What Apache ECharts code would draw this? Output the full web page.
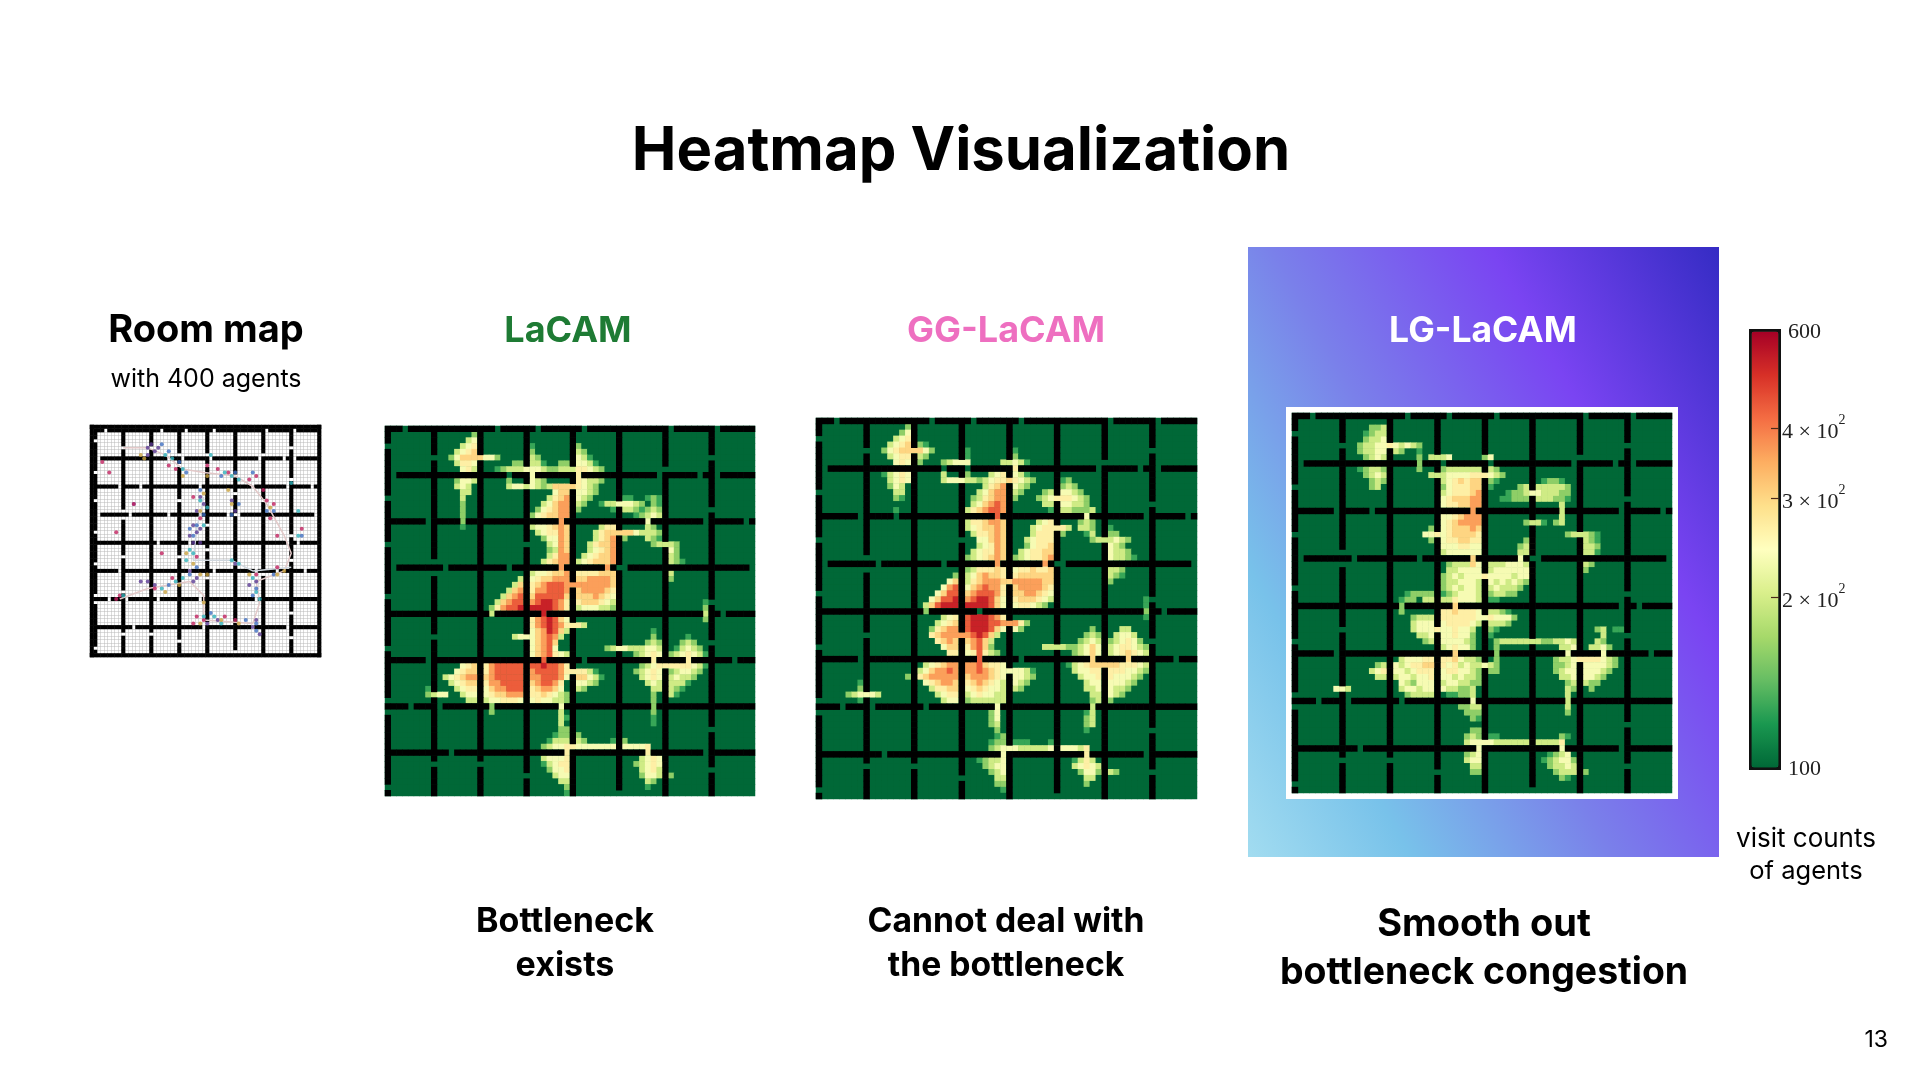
<!DOCTYPE html>
<html><head><meta charset="utf-8">
<style>html,body{margin:0;padding:0;background:#fff}#c{width:1920px;height:1080px}</style>
<script src="https://cdn.jsdelivr.net/npm/echarts@6/dist/echarts.min.js"></script>
</head><body><div id="c"></div>
<script>
// visit-count level lookup ('1'..'9' in the run strings below)
const levelValues = [100,128,160,198,235,268,305,365,440,530];
const scaleMin = 100, scaleMax = 600;
const colorbarTicks = [100,200,300,400,600];
const colorbarLabels = {100:'100',200:'2 × 10',300:'3 × 10',400:'4 × 10',600:'600'};
const rampColors = ['#006837','#1a9850','#66bd63','#a6d96a','#d9ef8b','#ffffbf','#fee08b','#fdae61','#f46d43','#d73027','#a50026'];

// wall layout: rows / columns every 8 cells, lists of openings
const wallRowGaps = [[3,19,26,34,49,57],[1,21,25,33,47,54,57],[7,13,30,45,55,62],[1,10,21,30,38,40,41,63],[18,27,55,58],[7,27,34,46,52,60],[4,9,18,30,46],[11,31,45,55]];
const wallColGaps = [[3,12,20,29,38,47,49,62],[5,23,25,36,46,58],[5,58],[7,10,20,36,60],[7,10,27,34,42,55],[13,18,24,38,63],[7,20,41],[5,14,30,37,52,59]];

// each run: [row, first column, levels]
const lacamRuns = [[1,15,"2"],[2,14,"34"],[3,13,"345"],[3,25,"1"],[3,33,"2"],[4,12,"3456"],[4,25,"2"],[4,33,"32"],[5,11,"246666"],[5,17,"442"],[5,25,"32"],[5,33,"431"],[6,12,"3554"],[6,22,"22"],[6,25,"331"],[6,30,"22"],[6,33,"4431"],[7,13,"453"],[7,19,"12333"],[7,24,"444322333"],[7,33,"55432"],[8,25,"4"],[8,33,"5"],[9,12,"2443"],[9,21,"2"],[9,25,"432"],[9,33,"54332"],[10,12,"343"],[10,21,"3443"],[10,25,"432"],[10,28,"3666"],[10,32,"6"],[10,33,"5432"],[11,13,"33"],[11,29,"466"],[11,33,"4432"],[12,13,"3"],[12,28,"3567"],[12,33,"432"],[12,41,"11"],[12,45,"121"],[13,13,"2"],[13,27,"34677"],[13,33,"32"],[13,37,"13344432"],[13,46,"21"],[14,13,"2"],[14,26,"245677"],[14,33,"2"],[14,39,"123321"],[14,45,"232"],[15,13,"2"],[15,25,"2456677"],[15,43,"12343"],[16,13,"2"],[16,30,"7"],[16,45,"4"],[17,13,"1"],[17,25,"3445676"],[17,37,"355"],[17,45,"32"],[18,26,"345576"],[18,36,"3566"],[18,40,"666"],[18,43,"43332"],[19,27,"24476"],[19,36,"3567"],[19,41,"2"],[19,45,"321"],[20,28,"3476"],[20,35,"35667"],[20,46,"23332"],[21,28,"2376"],[21,35,"34567"],[21,49,"42"],[22,28,"3577"],[22,34,"345667"],[22,49,"32"],[23,27,"35677"],[23,33,"3456667"],[23,49,"321"],[24,30,"7"],[24,38,"7"],[25,25,"3445667"],[25,33,"5555666"],[25,49,"3"],[26,23,"3"],[26,25,"4566777"],[26,33,"6677776"],[26,49,"2"],[27,22,"36"],[27,25,"5678887"],[27,32,"77777776"],[28,21,"367"],[28,25,"5778887"],[28,33,"6777765"],[29,20,"3678"],[29,25,"6888886"],[29,33,"6667654"],[30,19,"36788"],[30,25,"7899875"],[30,33,"5666543"],[30,55,"1"],[31,18,"25788999999875"],[31,33,"3444332"],[31,55,"2"],[32,18,"3"],[32,27,"9"],[32,55,"3"],[33,25,"5789864"],[33,55,"2"],[34,25,"5789875"],[34,32,"553"],[35,25,"4679863"],[35,46,"1"],[36,22,"344"],[36,25,"467873"],[36,46,"2"],[36,52,"1"],[37,25,"46786"],[37,45,"232"],[37,51,"232"],[38,25,"46784"],[38,38,"234433"],[38,44,"3443"],[38,50,"13432"],[39,25,"4678543"],[39,43,"23454"],[39,49,"2345431"],[40,27,"8"],[40,46,"5"],[40,52,"5"],[41,13,"456"],[41,17,"5788888"],[41,25,"8898875"],[41,44,"23455"],[41,49,"5555431"],[42,12,"4566"],[42,17,"5788888"],[42,25,"7888875"],[42,32,"55531"],[42,43,"23454"],[42,49,"234432"],[43,10,"3456777"],[43,17,"6788888"],[43,25,"7788874"],[43,33,"66431"],[43,44,"3454"],[43,49,"34332"],[44,11,"34566"],[44,17,"5778888"],[44,25,"678875"],[44,33,"4432"],[44,45,"343"],[44,49,"3331"],[45,7,"1"],[45,12,"3455"],[45,17,"4677888"],[45,25,"567764"],[45,33,"32"],[45,46,"33"],[45,49,"321"],[46,7,"2344"],[46,13,"344"],[46,17,"4566777"],[46,25,"5565432"],[46,46,"2"],[46,49,"31"],[47,14,"33"],[47,17,"3445554"],[47,25,"4544332"],[47,46,"2"],[48,18,"2"],[48,30,"4"],[48,46,"2"],[49,18,"2"],[49,30,"3"],[49,46,"2"],[50,30,"31"],[50,46,"1"],[51,30,"3"],[51,46,"1"],[52,30,"22"],[53,29,"122"],[53,33,"2"],[54,28,"1333"],[54,33,"32"],[54,39,"122"],[55,27,"2344554444444444"],[55,43,"445"],[56,31,"5"],[56,45,"5"],[57,27,"34445"],[57,44,"3454"],[58,27,"13455"],[58,43,"234543"],[59,28,"2445"],[59,44,"34533"],[60,29,"344"],[60,44,"244332"],[61,30,"33"],[61,45,"32"],[62,31,"2"],[62,45,"1"],[63,31,"1"]];

const ggRuns = [[1,15,"2"],[2,14,"24"],[3,13,"345"],[4,12,"3456"],[4,17,"21"],[5,11,"2456666"],[5,18,"42"],[5,25,"1"],[5,33,"1"],[6,12,"3455"],[6,17,"32"],[6,25,"1"],[6,33,"2"],[7,13,"454"],[7,17,"2"],[7,21,"23444"],[7,31,"33431"],[8,33,"5"],[9,11,"13454"],[9,21,"3"],[9,25,"2"],[9,29,"345"],[9,33,"431"],[10,12,"3454"],[10,21,"3444"],[10,25,"332345"],[10,31,"565432"],[10,41,"12"],[11,12,"243"],[11,28,"3567"],[11,33,"432"],[11,41,"232"],[12,13,"33"],[12,27,"34677"],[12,33,"32"],[12,38,"23"],[12,41,"4432"],[13,13,"21"],[13,26,"235677"],[13,33,"2"],[13,37,"234"],[13,40,"555432"],[14,26,"346787"],[14,38,"33"],[14,41,"44332"],[15,13,"1"],[15,25,"3567887"],[15,39,"1"],[15,41,"332223"],[16,30,"8"],[16,45,"4"],[17,25,"3556776"],[17,37,"345"],[17,44,"232"],[18,25,"3456676"],[18,36,"3455"],[18,40,"553"],[18,44,"332"],[18,49,"1"],[19,26,"355676"],[19,36,"3555"],[19,41,"2"],[19,45,"13"],[19,49,"22"],[20,27,"44676"],[20,35,"34555"],[20,46,"2333432"],[21,27,"34576"],[21,35,"24556"],[21,49,"432"],[22,26,"345576"],[22,34,"345566"],[22,49,"4332"],[23,25,"2345676"],[23,33,"2345567"],[23,49,"43321"],[24,30,"7"],[24,38,"7"],[25,25,"2355565"],[25,33,"4556556"],[25,49,"332"],[26,23,"2"],[26,25,"3467665"],[26,33,"5666666"],[26,49,"321"],[27,22,"46"],[27,25,"3567776"],[27,32,"67777766"],[27,49,"2"],[28,21,"478"],[28,25,"4678775"],[28,33,"6777765"],[29,20,"4688"],[29,25,"6788875"],[29,33,"6677654"],[30,19,"46889"],[30,25,"7899864"],[30,33,"5666543"],[30,55,"1"],[31,18,"368999"],[31,25,"9999864"],[31,33,"455432"],[31,55,"1"],[32,18,"2"],[32,55,"2"],[33,21,"345"],[33,25,"8999875"],[33,55,"1"],[34,20,"3456"],[34,25,"8999887"],[34,32,"7752"],[35,19,"25677"],[35,25,"8999864"],[35,33,"42"],[35,46,"2"],[35,51,"33"],[36,19,"56777"],[36,24,"77"],[36,26,"89863"],[36,45,"232"],[36,50,"3443"],[37,20,"5676"],[37,25,"67863"],[37,44,"2343"],[37,49,"234542"],[38,21,"466"],[38,25,"57862"],[38,38,"333322"],[38,44,"3464"],[38,49,"3455432"],[39,22,"55"],[39,25,"458532"],[39,43,"23464"],[39,49,"3456543"],[40,27,"8"],[40,46,"6"],[40,52,"6"],[41,18,"345677"],[41,25,"7786554"],[41,42,"1345666"],[41,49,"6655543"],[42,17,"3467787"],[42,25,"7787654"],[42,32,"44431"],[42,43,"34455"],[42,49,"5554432"],[43,15,"24567777"],[43,23,"7"],[43,25,"6777654"],[43,33,"4432"],[43,44,"3445"],[43,49,"544432"],[44,7,"1"],[44,18,"456776"],[44,25,"5676543"],[44,33,"432"],[44,45,"344"],[44,49,"44432"],[45,7,"2"],[45,19,"35566"],[45,25,"4565443"],[45,33,"32"],[45,45,"334"],[45,49,"4332"],[46,5,"234443"],[46,20,"3455"],[46,25,"3454433"],[46,46,"33"],[46,49,"432"],[47,7,"1"],[47,21,"344"],[47,25,"2333333"],[47,46,"23"],[47,49,"2"],[48,30,"4"],[48,46,"3"],[49,29,"24"],[49,45,"13"],[50,29,"24"],[50,45,"23"],[51,29,"23"],[51,45,"23"],[52,30,"2"],[52,45,"1"],[53,30,"12"],[54,29,"122"],[54,33,"111"],[54,39,"1"],[55,29,"234"],[55,32,"4433333444"],[55,42,"4435"],[56,31,"4"],[56,45,"5"],[57,27,"12334"],[57,43,"1353"],[58,28,"2344"],[58,43,"34543"],[59,29,"234"],[59,44,"2442332"],[60,30,"33"],[60,45,"33"],[61,30,"22"],[61,45,"2"],[62,31,"1"]];

const lgRuns = [[2,13,"223"],[3,12,"1233"],[4,12,"2334"],[5,11,"2334454343"],[5,21,"2"],[6,11,"23344"],[6,17,"32"],[6,21,"1"],[7,12,"2343"],[7,21,"2"],[7,23,"3334"],[7,32,"24"],[8,21,"2"],[9,11,"12332"],[9,21,"2"],[9,25,"2333333"],[9,33,"32"],[10,12,"2343"],[10,23,"333444455"],[10,32,"5432"],[11,13,"232"],[11,25,"3456566"],[11,33,"21"],[11,42,"1221"],[12,13,"23"],[12,25,"2455566"],[12,33,"1"],[12,38,"23"],[12,41,"333332"],[13,25,"3455567"],[13,36,"12234"],[13,41,"433322"],[14,25,"4566677"],[14,35,"11222"],[14,41,"33322"],[14,46,"1"],[15,25,"4556677"],[15,45,"3"],[16,30,"7"],[16,45,"3"],[17,25,"4456777"],[17,45,"3"],[18,25,"4567777"],[18,39,"2331"],[18,44,"23"],[19,23,"2"],[19,25,"4566676"],[20,22,"445"],[20,25,"4566665"],[20,46,"233321"],[21,23,"2"],[21,25,"4556655"],[21,39,"23"],[21,49,"321"],[22,25,"4445544"],[22,38,"233"],[22,49,"332"],[23,25,"3444444"],[23,38,"334"],[23,49,"331"],[24,30,"6"],[24,38,"4"],[25,26,"233364"],[25,33,"3334443"],[25,49,"32"],[26,26,"334444"],[26,33,"34444443"],[26,49,"2"],[27,25,"2343444"],[27,32,"544443443"],[28,25,"2334443"],[28,33,"4343432"],[29,25,"2343443"],[29,33,"343332"],[30,19,"12222"],[30,25,"1234443"],[30,33,"23322"],[31,18,"122"],[31,22,"33333544432"],[31,33,"11"],[32,18,"2"],[32,27,"6"],[33,18,"2"],[33,25,"5565554"],[33,33,"3321"],[34,20,"2333"],[34,25,"5555554"],[34,32,"454442"],[35,20,"3444"],[35,25,"4555543"],[35,33,"3332"],[36,20,"34445"],[36,25,"445443"],[36,33,"21"],[36,51,"23"],[36,54,"11"],[37,21,"334"],[37,25,"445442"],[37,33,"1"],[37,52,"3"],[38,22,"23"],[38,25,"444432"],[38,34,"233333"],[38,40,"33"],[38,42,"223343"],[38,51,"32"],[39,25,"345442"],[39,34,"2"],[39,45,"334"],[39,50,"3342"],[40,27,"6"],[40,34,"2"],[40,46,"4"],[40,52,"4"],[41,18,"344455"],[41,25,"5564332"],[41,34,"2"],[41,44,"23345"],[41,49,"555432"],[42,14,"23"],[42,17,"43455665"],[42,25,"5453433"],[42,32,"432"],[42,44,"2234"],[42,49,"444432"],[43,13,"3455"],[43,17,"4434555"],[43,25,"4554432"],[43,33,"22"],[43,44,"2344"],[43,49,"44432"],[44,14,"33"],[44,17,"3443445"],[44,25,"4434332"],[44,45,"334"],[44,49,"4432"],[45,18,"432444"],[45,25,"3443322"],[45,46,"23"],[45,49,"322"],[46,7,"443"],[46,18,"344344"],[46,25,"433223"],[46,46,"32"],[46,50,"2"],[47,19,"23333"],[47,26,"11223"],[47,46,"3"],[48,30,"4"],[48,46,"3"],[49,28,"2233"],[49,46,"3"],[50,29,"222"],[50,46,"2"],[51,30,"21"],[53,30,"22"],[54,29,"232"],[54,33,"11"],[54,45,"21"],[55,29,"344"],[55,32,"44333333333335"],[56,31,"4"],[56,45,"4"],[57,29,"234"],[57,43,"1234"],[58,29,"344"],[58,42,"123442"],[59,30,"33"],[59,43,"233432"],[60,30,"22"],[60,44,"233342"],[61,45,"21"]];

// sampled agents on the room map: [column, row] in map cells
const agentsPurple = [[16,6],[17,5],[18,7],[19,6],[16,8],[31,20],[32,22],[30,24],[29,28],[30,30],[28,31],[31,29],[29,33],[31,33],[40,21],[41,24],[28,41],[30,43],[29,44],[16,44],[18,45],[14,44],[45,45],[47,44],[41,39],[46,57],[47,55],[48,59],[33,56],[36,55],[12,22]];
const agentsCrimson = [[3,10],[5,13],[7,30],[12,22],[22,11],[24,12],[33,11],[36,12],[39,13],[45,15],[47,14],[49,18],[50,21],[52,22],[51,26],[53,31],[60,29],[20,36],[29,20],[31,26],[30,37],[18,46],[23,43],[8,48],[7,49],[32,55],[30,54],[29,56],[38,54],[41,55],[47,42],[53,40]];
const agentsTeal = [[21,8],[23,9],[26,12],[34,8],[38,13],[40,14],[42,15],[31,21],[33,23],[32,28],[28,35],[27,38],[29,36],[40,38],[42,39],[24,44],[26,43],[20,46],[47,47],[48,49],[46,43],[9,48],[32,54],[35,54],[37,56],[59,24],[57,16],[59,31]];
const agentsBlue = [[20,5],[22,7],[25,10],[27,13],[37,14],[41,13],[46,13],[31,18],[32,25],[30,28],[28,29],[29,31],[42,22],[40,25],[52,24],[50,24],[30,40],[28,42],[22,45],[47,46],[46,48],[47,56],[34,53],[44,55],[47,58],[52,42],[60,31]];
const agentsOchre = [[14,8],[15,9],[26,14],[33,14],[39,18],[40,22],[51,23],[32,19],[31,24],[27,36],[29,39],[33,42],[31,42],[21,47],[25,45],[45,42],[32,50],[31,56],[37,55],[42,56],[55,41],[53,42]];
const roomPathA = [[9,6],[16,6],[21,8],[26,12],[32,13],[41,14],[46,17],[50,22],[55,31],[57,36],[55,41],[47,44],[48,50],[46,56],[32,55],[32,48],[28,44],[16,46],[8,49]];
const roomPathB = [[32,20],[30,29],[29,38],[40,38],[46,41],[57,40]];

const N = 64;
const wallAt = (r, c) => (r % 8 === 0 && !wallRowGaps[r / 8].includes(c)) || (c % 8 === 0 && !wallColGaps[c / 8].includes(r));
const range = n => Array.from({length: n}, (_, i) => i);
const wallData = [];
range(N).forEach(r => range(N).forEach(c => { if (wallAt(r, c)) wallData.push([c, r, 1]); }));
const roomWallData = wallData.map(d => [d[0] + 1, d[1] + 1, 1]);
range(66).forEach(i => { [[i,0],[0,i],[i,65],[65,i]].forEach(p => roomWallData.push([p[0], p[1], 1])); });

function heatTable(runs) {
  const m = range(N).map(() => new Array(N).fill(levelValues[0]));
  runs.forEach(([r, c, s]) => {
    s.split('').forEach((ch, i) => { if (c + i < N) m[r][c + i] = levelValues[+ch]; });
  });
  const out = [];
  range(N).forEach(r => range(N).forEach(c => out.push([c, r, m[r][c], Math.log10(m[r][c])])));
  return out;
}

const mapBoxes = [
  {left: 385, top: 426, width: 370, height: 370},
  {left: 816, top: 418, width: 381, height: 381},
  {left: 1292, top: 413, width: 380, height: 380}
];
const heatTables = [lacamRuns, ggRuns, lgRuns].map(heatTable);

const grids = [], xAxes = [], yAxes = [], series = [];
const catAxis = (n, idx, extra) => Object.assign({type: 'category', gridIndex: idx, data: range(n), show: false}, extra || {});
mapBoxes.forEach((b, i) => {
  grids.push(Object.assign({backgroundColor: '#006837', show: true, borderWidth: 0}, b));
  xAxes.push(catAxis(N, i));
  yAxes.push(catAxis(N, i, {inverse: true}));
  series.push({type: 'heatmap', xAxisIndex: i, yAxisIndex: i, data: heatTables[i], progressive: 0, silent: true, z: 2});
  series.push({type: 'heatmap', xAxisIndex: i, yAxisIndex: i, data: wallData, progressive: 0, silent: true, z: 3});
});
// room map
const gridLine = {show: true, interval: 0, lineStyle: {color: '#b9b9b9', width: 0.5}};
const hide = {axisLine: {show: false}, axisTick: {show: false}, axisLabel: {show: false}};
grids.push({left: 90, top: 425, width: 231, height: 232, backgroundColor: '#fff', show: true, borderWidth: 0});
xAxes.push(Object.assign({type: 'category', gridIndex: 3, data: range(66), boundaryGap: true, splitLine: gridLine}, hide));
yAxes.push(Object.assign({type: 'category', gridIndex: 3, data: range(66), inverse: true, boundaryGap: true, splitLine: gridLine}, hide));
series.push({type: 'heatmap', xAxisIndex: 3, yAxisIndex: 3, data: roomWallData, progressive: 0, silent: true, z: 3});
[[roomPathA, '#e3c9c9'], [roomPathB, '#cfd6dd']].forEach(([p, col]) => series.push({
  type: 'line', xAxisIndex: 3, yAxisIndex: 3, data: p, symbol: 'none', silent: true, z: 4,
  lineStyle: {color: col, width: 1.5}
}));
[[agentsPurple, '#5a3a94'], [agentsCrimson, '#c2205f'], [agentsTeal, '#2fb3bb'], [agentsBlue, '#3f6fc2'], [agentsOchre, '#c9a23f']].forEach(([p, col]) => series.push({
  type: 'scatter', xAxisIndex: 3, yAxisIndex: 3, data: p, symbolSize: 4, silent: true, z: 5,
  itemStyle: {color: col}
}));
// colour bar axis
grids.push({left: 1750, top: 329, width: 29, height: 437, show: false});
xAxes.push({type: 'value', gridIndex: 4, show: false, min: 0, max: 1});
const tickLog = colorbarTicks.map(v => Math.log10(v));
yAxes.push({
  type: 'value', gridIndex: 4, position: 'right', min: 2, max: Math.log10(scaleMax), z: 20,
  axisLine: {show: false, onZero: false}, splitLine: {show: false},
  axisTick: {show: true, inside: true, length: 8, customValues: tickLog.slice(1, 4), lineStyle: {color: '#4a2a1a', width: 1.2}},
  axisLabel: {
    show: true, margin: 3, customValues: tickLog,
    formatter: v => {
      const k = Math.round(Math.pow(10, v));
      const key = colorbarTicks.find(t => Math.abs(t - k) < 2);
      return (key === 100 || key === 600) ? '{e|' + colorbarLabels[key] + '}' : '{n|' + colorbarLabels[key] + '}{s|2}';
    },
    rich: {
      n: {fontFamily: 'Liberation Serif', fontSize: 22, color: '#222', verticalAlign: 'bottom', padding: [8, 0, 0, 0]},
      e: {fontFamily: 'Liberation Serif', fontSize: 22, color: '#222', padding: [6, 0, 0, 6]},
      s: {fontFamily: 'Liberation Serif', fontSize: 14, color: '#222', verticalAlign: 'top', padding: [0, 0, 8, 0]}
    }
  }
});
series.push({type: 'scatter', xAxisIndex: 4, yAxisIndex: 4, data: [], silent: true});

const FONT = 'Inter';
const txt = (x, y, s, size, weight, color, align) => ({
  type: 'text', z: 50, style: {x, y, text: s, fontFamily: FONT, fontSize: size, fontWeight: weight, fill: color || '#000', align: align || 'center', verticalAlign: 'middle'}
});

const option = {
  animation: false,
  backgroundColor: '#fff',
  title: {text: 'Heatmap Visualization', left: 956, top: 147, textAlign: 'center', textVerticalAlign: 'middle',
    textStyle: {fontFamily: FONT, fontSize: 59.8, fontWeight: 700, color: '#000'}},
  grid: grids, xAxis: xAxes, yAxis: yAxes, series,
  visualMap: [{
    type: 'continuous', show: true, seriesIndex: [0, 2, 4], dimension: 3,
    min: 2, max: Math.log10(scaleMax), left: 1749, top: 329, itemWidth: 27, itemHeight: 436,
    padding: 1, borderColor: '#111', borderWidth: 3, text: null, showLabel: false, calculable: false, hoverLink: false, realtime: false,
    inRange: {color: rampColors}, outOfRange: {color: rampColors[0]}, z: 10
  }, {
    type: 'continuous', show: false, seriesIndex: [1, 3, 5, 6], dimension: 2, min: 0, max: 2, inRange: {color: ['#000', '#000']}
  }],
  graphic: {elements: [
    {type: 'rect', z: -5, shape: {x: 1248, y: 247, width: 471, height: 610}, style: {fill: {
      type: 'linear', x: 1248, y: 857, x2: 1866, y2: 511, global: true,
      colorStops: [{offset: 0, color: '#a2dcf0'}, {offset: 0.2, color: '#78c2ea'}, {offset: 0.45, color: '#7a80ea'}, {offset: 0.72, color: '#7a44f2'}, {offset: 1, color: '#352cc4'}]
    }}},
    {type: 'rect', z: -4, shape: {x: 1286, y: 407, width: 392, height: 392}, style: {fill: '#fff'}},
    txt(206, 330.5, 'Room map', 38, 700),
    txt(206, 379, 'with 400 agents', 25, 400),
    txt(568, 331, 'LaCAM', 36, 700, '#1e7b34'),
    txt(1006, 331, 'GG-LaCAM', 36, 700, '#ee6fc0'),
    txt(1483, 331, 'LG-LaCAM', 35.5, 700, '#ffffff'),
    txt(565, 922, 'Bottleneck', 34, 700),
    txt(565, 966, 'exists', 34, 700),
    txt(1006, 922, 'Cannot deal with', 33.7, 700),
    txt(1006, 966, 'the bottleneck', 33.7, 700),
    txt(1484, 925, 'Smooth out', 38, 700),
    txt(1484, 973, 'bottleneck congestion', 37.4, 700),
    txt(1806, 839, 'visit counts', 26, 400),
    txt(1806, 871, 'of agents', 25.5, 400),
    txt(1888, 1040, '13', 23, 400, '#000', 'right')
  ]}
};
echarts.init(document.getElementById('c'), null, {renderer: 'canvas'}).setOption(option);
</script></body></html>
